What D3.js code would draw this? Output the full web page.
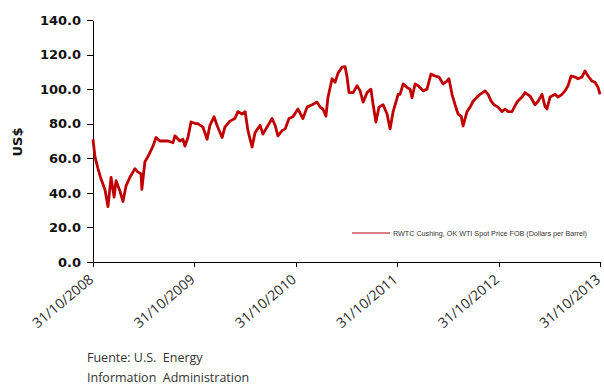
<!DOCTYPE html>
<html>
<head>
<meta charset="utf-8">
<script src="https://cdn.jsdelivr.net/npm/d3@7"></script>
<style>
    body { margin: 0; background: #fff; }
    #chart { width: 604px; height: 386px; }
    .axis path, .axis line { stroke: #000; shape-rendering: crispEdges; }
</style>
</head>
<body>
<div id="chart"></div>
<script>

// WTI spot price
let dates = [
    "2008-10-31", "2008-11-07", "2008-11-18", "2008-11-29", "2008-12-13", "2008-12-24",
    "2009-01-04", "2009-01-15", "2009-01-22", "2009-02-05", "2009-02-16", "2009-02-27",
    "2009-03-13", "2009-03-31", "2009-04-11", "2009-04-22", "2009-04-25", "2009-05-06",
    "2009-05-17", "2009-06-04", "2009-06-15", "2009-06-29", "2009-07-28", "2009-08-15",
    "2009-08-22", "2009-09-09", "2009-09-20", "2009-09-27", "2009-10-08", "2009-10-19",
    "2009-11-06", "2009-11-13", "2009-12-01", "2009-12-16", "2009-12-26", "2010-01-10",
    "2010-01-21", "2010-02-08", "2010-02-18", "2010-03-08", "2010-03-26", "2010-04-06",
    "2010-04-21", "2010-05-02", "2010-05-12", "2010-05-27", "2010-06-07", "2010-06-25",
    "2010-07-05", "2010-07-23", "2010-08-07", "2010-08-18", "2010-08-28", "2010-09-12",
    "2010-09-23", "2010-10-07", "2010-10-21", "2010-11-08", "2010-11-26", "2010-12-11",
    "2010-12-29", "2011-01-16", "2011-01-27", "2011-02-06", "2011-02-17", "2011-02-24",
    "2011-03-11", "2011-03-22", "2011-04-01", "2011-04-16", "2011-04-27", "2011-05-04",
    "2011-05-11", "2011-05-26", "2011-06-09", "2011-06-20", "2011-07-01", "2011-07-15",
    "2011-07-29", "2011-08-06", "2011-08-16", "2011-08-27", "2011-09-11", "2011-09-25",
    "2011-10-06", "2011-10-17", "2011-11-04", "2011-11-11", "2011-11-22", "2011-12-06",
    "2011-12-17", "2011-12-24", "2012-01-04", "2012-01-15", "2012-02-02", "2012-02-16",
    "2012-03-01", "2012-03-16", "2012-03-30", "2012-04-14", "2012-04-28", "2012-05-05",
    "2012-05-16", "2012-05-27", "2012-06-07", "2012-06-18", "2012-06-25", "2012-07-09",
    "2012-07-20", "2012-07-31", "2012-08-14", "2012-08-25", "2012-09-12", "2012-09-23",
    "2012-10-04", "2012-10-14", "2012-10-29", "2012-11-12", "2012-11-23", "2012-12-04",
    "2012-12-18", "2013-01-05", "2013-01-23", "2013-02-03", "2013-02-21", "2013-03-11",
    "2013-03-22", "2013-04-05", "2013-04-16", "2013-04-23", "2013-05-04", "2013-05-22",
    "2013-06-02", "2013-06-16", "2013-06-27", "2013-07-08", "2013-07-19", "2013-08-02",
    "2013-08-13", "2013-08-27", "2013-09-07", "2013-09-18", "2013-10-02", "2013-10-13",
    "2013-10-24", "2013-10-31"
];

let prices = [
    71, 61, 54, 48, 42, 32,
    49, 37.6, 47, 41, 35, 44,
    49, 54, 52, 51, 42, 58,
    61, 67, 72, 70, 70, 69,
    73, 70, 71, 67, 72, 81,
    80, 80, 78, 71, 79, 84,
    79, 72, 78, 81.5, 83, 87,
    85.6, 87, 76, 66.5, 75, 79,
    74, 79, 83, 79, 73, 76,
    77, 83, 84, 88.5, 83, 89.6,
    91, 92.5, 89.6, 88.5, 84.4, 95,
    106, 104, 109, 112.8, 113, 107,
    98, 98, 102, 99, 92.5, 98,
    100, 91, 81, 89.6, 91, 85.6,
    77, 87, 97, 97, 103, 101,
    100, 95, 103, 102, 99, 100,
    108.7, 107.6, 107, 103, 104.7, 106,
    97, 91, 85.6, 84.4, 78.7, 87,
    89.6, 93, 95.4, 97, 99, 97,
    93, 91, 89.6, 87, 88.5, 87,
    87, 92.5, 95.4, 98, 96, 91,
    93, 97, 90, 88.5, 95.4, 97,
    95.4, 97, 99, 102, 107.6, 107,
    106, 107, 110.5, 107.6, 104.7, 104,
    101, 97
];

let tickDates = ["2008-10-31", "2009-10-31", "2010-10-31", "2011-10-31", "2012-10-31", "2013-10-31"];
let yTicks = [0, 20, 40, 60, 80, 100, 120, 140];

let seriesName = "RWTC Cushing, OK WTI Spot Price FOB (Dollars per Barrel)";
let sourceLines = ["Fuente: U.S.  Energy", "Information  Administration"];


function drawChart() {

    let container = document.getElementById("chart");

    let WIDTH = 604,
        HEIGHT = 386,
        LEFT = 93,
        RIGHT = 600,
        TOP = 20,
        BOTTOM = 262;

    let parse = d3.timeParse("%Y-%m-%d");

    let data = dates.map((d, i) => ({date: parse(d), value: prices[i]}));

    let x = d3.scaleTime()
        .domain([parse(tickDates[0]), parse(tickDates[tickDates.length - 1])])
        .range([LEFT, RIGHT]);

    let y = d3.scaleLinear()
        .domain([0, 140])
        .range([BOTTOM, TOP]);

    let svg = d3.select(container)
        .append("svg")
        .attr("width", WIDTH)
        .attr("height", HEIGHT);

    // Y axis

    let yAxis = svg.append("g")
        .classed("axis", true)
        .attr("transform", `translate(${LEFT},0)`)
        .call(d3.axisLeft(y)
            .tickValues(yTicks)
            .tickFormat(d3.format(".1f"))
            .tickSize(6)
            .tickSizeOuter(0)
            .tickPadding(6));

    yAxis.selectAll("text")
        .attr("font-family", "DejaVu Sans, sans-serif")
        .attr("font-weight", "bold")
        .attr("font-size", 13)
        .attr("fill", "#111");

    // X axis

    let xAxis = svg.append("g")
        .classed("axis", true)
        .attr("transform", `translate(0,${BOTTOM})`)
        .call(d3.axisBottom(x)
            .tickValues(tickDates.map(parse))
            .tickFormat(d3.timeFormat("%d/%m/%Y"))
            .tickSize(5)
            .tickSizeOuter(0));

    xAxis.selectAll("text")
        .attr("font-family", "Open Sans, sans-serif")
        .attr("font-size", 14)
        .attr("fill", "#2a2a2a")
        .attr("text-anchor", "end")
        .attr("dy", null)
        .attr("y", 0)
        .attr("transform", "translate(1,19) rotate(-40)");

    // Y title

    svg.append("text")
        .attr("transform", "translate(22,142) rotate(-90)")
        .attr("text-anchor", "middle")
        .attr("font-family", "DejaVu Sans, sans-serif")
        .attr("font-weight", "bold")
        .attr("font-size", 13)
        .attr("fill", "#111")
        .text("US$");

    // Price line

    let line = d3.line()
        .x(d => x(d.date))
        .y(d => y(d.value));

    svg.append("path")
        .datum(data)
        .attr("fill", "none")
        .attr("stroke", "#c00000")
        .attr("stroke-width", 2.8)
        .attr("stroke-linejoin", "round")
        .attr("d", line);

    // Legend

    svg.append("line")
        .attr("x1", 352)
        .attr("x2", 390)
        .attr("y1", 233)
        .attr("y2", 233)
        .attr("stroke", "#b00000")
        .attr("stroke-width", 1);

    svg.append("text")
        .attr("x", 393)
        .attr("y", 235.5)
        .attr("font-family", "Liberation Sans, Arial, sans-serif")
        .attr("font-size", 7.2)
        .attr("fill", "#333")
        .text(seriesName);

    // Source

    svg.selectAll(".source")
        .data(sourceLines)
        .enter()
        .append("text")
        .classed("source", true)
        .attr("x", 87)
        .attr("y", (d, i) => 362 + i * 20)
        .attr("font-family", "Open Sans, sans-serif")
        .attr("font-size", 12.5)
        .attr("fill", "#333")
        .attr("xml:space", "preserve")
        .style("white-space", "pre")
        .text(d => d);
}

drawChart();
</script>
</body>
</html>
